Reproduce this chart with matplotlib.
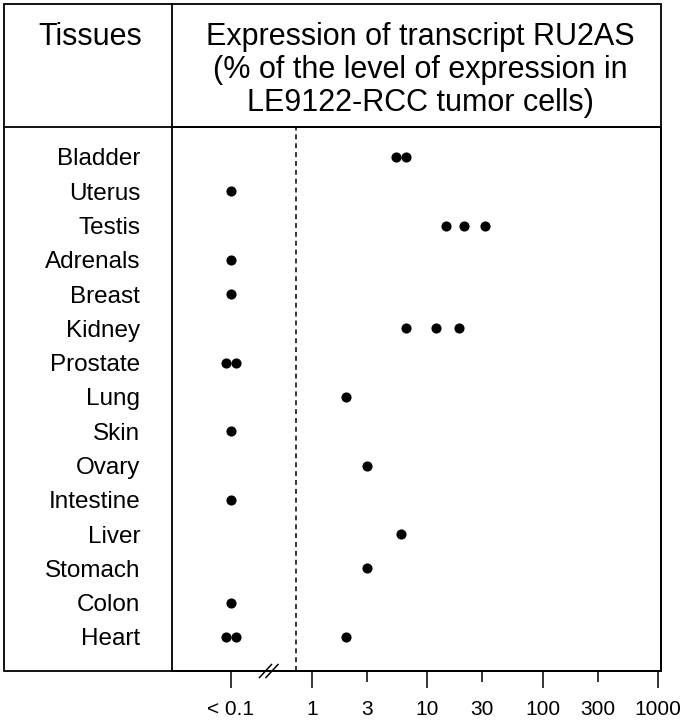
import numpy as np
import matplotlib
matplotlib.use('Agg')
import matplotlib.pyplot as plt
from matplotlib.patches import Rectangle
from matplotlib.ticker import FixedLocator, FixedFormatter

plt.rcParams['font.family'] = ['Liberation Sans', 'DejaVu Sans']

# data: expression in % of LE9122-RCC level; samples under the detection
# limit are counted separately and drawn at the "< 0.1" position
tissues = ['Bladder', 'Uterus', 'Testis', 'Adrenals', 'Breast', 'Kidney',
           'Prostate', 'Lung', 'Skin', 'Ovary', 'Intestine', 'Liver',
           'Stomach', 'Colon', 'Heart']
detected = [[5.4, 6.6], [], [14.5, 21.0, 31.5], [], [], [6.5, 11.8, 18.7],
            [], [2.0], [], [3.0], [], [5.9], [3.0], [], [2.0]]
below_limit = [0, 1, 0, 1, 1, 0, 2, 0, 1, 0, 1, 0, 0, 1, 2]

major_ticks = [0.2, 1, 10, 100, 1000]
major_labels = ['< 0.1', '1', '10', '100', '1000']
minor_ticks = [3, 30, 300]
minor_labels = ['3', '30', '300']

title_lines = ['Expression of transcript RU2AS',
               '(% of the level of expression in',
               'LE9122-RCC tumor cells)']

W, H = 682, 720
fig = plt.figure(figsize=(W / 100, H / 100), dpi=100)

# pixel-space background axes for the table frame and header
bg = fig.add_axes([0, 0, 1, 1], zorder=0)
bg.set_xlim(0, W)
bg.set_ylim(H, 0)
bg.axis('off')

left, right, top, bottom = 172.3, 660.7, 127.0, 670.7
ax = fig.add_axes([left / W, 1 - bottom / H, (right - left) / W, (bottom - top) / H], zorder=1)
ax.patch.set_alpha(0)

lw = 1.3
bg.add_patch(Rectangle((4, 4), right - 4, bottom - 4, fill=False, lw=lw, ec='black'))
bg.plot([4, right], [top, top], color='black', lw=lw)
bg.plot([left, left], [4, top], color='black', lw=lw)

bg.text(90, 45, 'Tissues', fontsize=22, ha='center', va='baseline')
for i, line in enumerate(title_lines):
    bg.text(420, 45 + 33 * i, line, fontsize=22, ha='center', va='baseline')

# points
pos_below = 0.2
jitter = 10 ** 0.047
for row, (vals, nb) in enumerate(zip(detected, below_limit)):
    xs = list(vals)
    if nb == 1:
        xs.append(pos_below)
    elif nb == 2:
        xs += [pos_below / jitter, pos_below * jitter]
    ax.plot(xs, [row] * len(xs), 'o', color='black', ms=7.3, mew=0, clip_on=False)

ax.set_xscale('log')
ax.set_xlim(10 ** -1.2066, 10 ** 3.021)
ax.set_ylim(len(tissues) - 1 + 0.983, -0.875)

# detection limit line
ax.axvline(0.73, color='black', lw=1.1, ls=(0, (3.2, 2.6)))

ax.xaxis.set_major_locator(FixedLocator(major_ticks))
ax.xaxis.set_major_formatter(FixedFormatter(major_labels))
ax.xaxis.set_minor_locator(FixedLocator(minor_ticks))
ax.xaxis.set_minor_formatter(FixedFormatter(minor_labels))
ax.tick_params(axis='x', which='major', length=12.3, width=1.1, pad=8.5, labelsize=15)
ax.tick_params(axis='x', which='minor', length=8, width=1.1, pad=12.8, labelsize=15)

ax.set_yticks(range(len(tissues)))
ax.set_yticklabels(tissues)
ax.tick_params(axis='y', length=0, pad=23, labelsize=17.5)

for s in ax.spines.values():
    s.set_linewidth(lw)

# axis break marks
for x0 in (259.5, 266.0):
    ax.plot([x0, x0 + 12], [677.5, 664.5], color='black', lw=1.1,
            transform=bg.transData, clip_on=False)

fig.savefig('out.png', dpi=100, facecolor='white')
